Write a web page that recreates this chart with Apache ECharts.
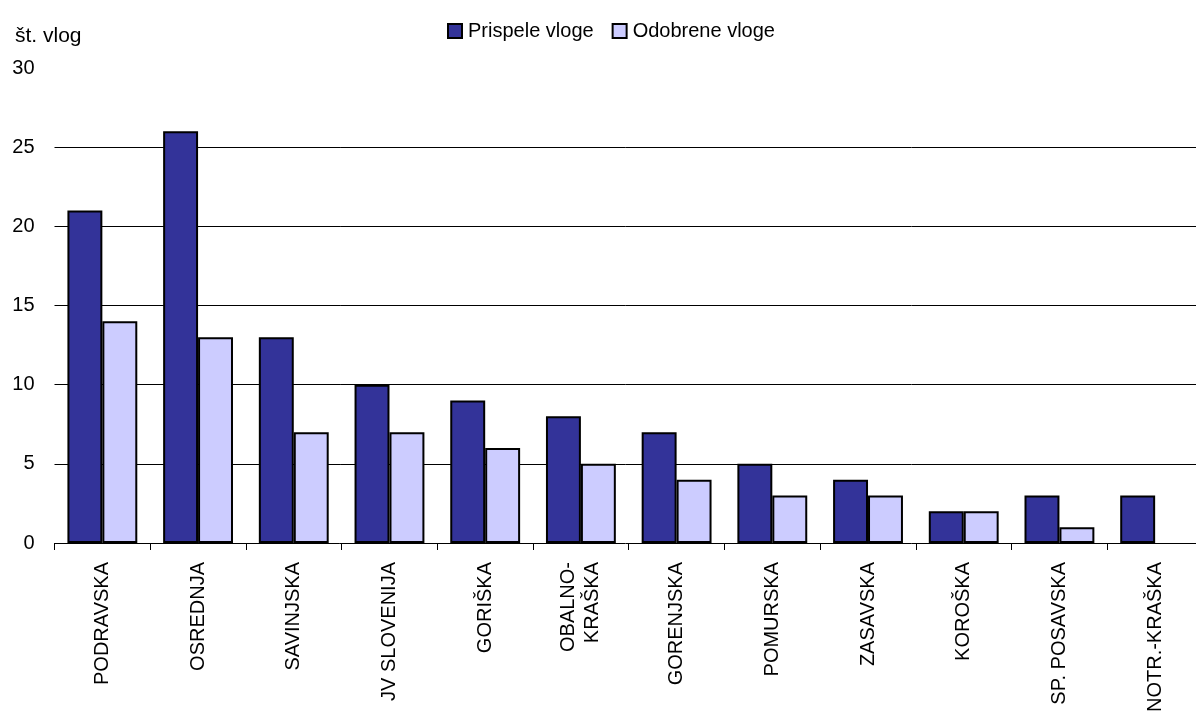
<!DOCTYPE html>
<html><head><meta charset="utf-8">
<script src="https://cdn.jsdelivr.net/npm/echarts@6/dist/echarts.min.js"></script>
<style>html,body{margin:0;padding:0;background:#fff}#c{width:1196px;height:713px}</style>
</head><body><div id="c"></div>
<script>
const categories = ['PODRAVSKA','OSREDNJA','SAVINJSKA','JV SLOVENIJA','GORIŠKA','OBALNO-\nKRAŠKA','GORENJSKA','POMURSKA','ZASAVSKA','KOROŠKA','SP. POSAVSKA','NOTR.-KRAŠKA'];
const prispele = [21,26,13,10,9,8,7,5,4,2,3,3];
const odobrene = [14,13,7,7,6,5,4,3,3,2,1,null];
const yTicks = [0,5,10,15,20,25,30];

const font = '"Liberation Sans", Arial, sans-serif';
const chart = echarts.init(document.getElementById('c'));
chart.setOption({
  animation: false,
  textStyle: {fontFamily: font},
  title: {text: 'št. vlog', left: 10, top: 21, textStyle: {fontFamily: font, fontSize: 21, fontWeight: 'normal', color: '#000'}},
  legend: {
    data: ['Prispele vloge','Odobrene vloge'], top: 16, left: 442,
    icon: 'rect', itemWidth: 14, itemHeight: 14, itemGap: 18,
    itemStyle: {borderColor: '#000', borderWidth: 2},
    textStyle: {fontFamily: font, fontSize: 20, color: '#000', padding: [0,0,0,1]}
  },
  grid: {left: 54.5, top: 68, right: -7, bottom: 170, containLabel: false, outerBoundsMode: 'none'},
  xAxis: {
    type: 'category', data: categories,
    axisLine: {lineStyle: {color: '#000', width: 1}},
    axisTick: {show: true, length: 7, lineStyle: {color: '#000'}, alignWithLabel: false},
    axisLabel: {rotate: 90, interval: 0, margin: 19, fontFamily: font, fontSize: 20, color: '#000', lineHeight: 24}
  },
  yAxis: {
    type: 'value', min: 0, max: 30, interval: 5,
    axisLine: {show: false}, axisTick: {show: false},
    axisLabel: {margin: 20, fontFamily: font, fontSize: 20, color: '#000',
      formatter: v => yTicks.includes(v) ? String(v) : ''},
    splitLine: {show: true, lineStyle: {color: '#000', width: 1},
      showMinLine: false, showMaxLine: false}
  },
  series: [
    {name: 'Prispele vloge', type: 'bar', data: prispele, barGap: '0%', barCategoryGap: '27%',
      itemStyle: {color: '#333399', borderColor: '#000', borderWidth: 2}},
    {name: 'Odobrene vloge', type: 'bar', data: odobrene, barGap: '0%', barCategoryGap: '27%',
      itemStyle: {color: '#CCCCFF', borderColor: '#000', borderWidth: 2}}
  ]
});
</script></body></html>
